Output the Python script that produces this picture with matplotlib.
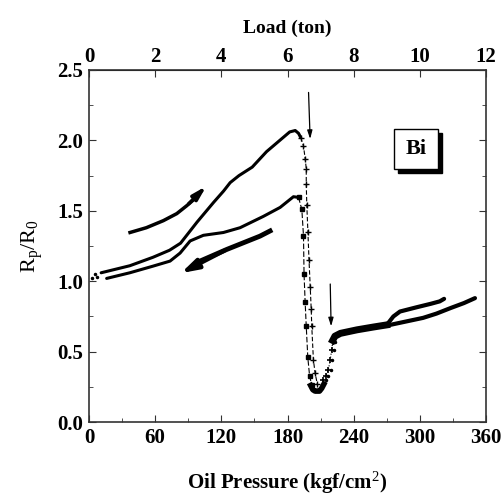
import matplotlib
matplotlib.use("Agg")

import matplotlib.pyplot as plt
from matplotlib.patches import Rectangle

plt.rcParams["font.family"] = ["Liberation Serif", "DejaVu Serif"]
plt.rcParams["mathtext.fontset"] = "custom"
plt.rcParams["mathtext.rm"] = "Liberation Serif"
plt.rcParams["mathtext.it"] = "Liberation Serif:italic"
plt.rcParams["mathtext.bf"] = "Liberation Serif:bold"

# first loading cycle (peak ~2.07)
load1_x = [11, 37, 58, 73, 83, 98, 113, 122, 128, 136, 148, 161, 173, 182, 187, 190, 192]
load1_y = [1.06, 1.11, 1.17, 1.22, 1.27, 1.42, 1.56, 1.64, 1.70, 1.75, 1.81, 1.92, 2.00, 2.06, 2.07, 2.05, 2.02]
drop1_x = [192, 194.5, 196, 197, 197, 197.5, 198.5, 199.5, 200.6, 201.5, 202, 203.5, 205, 207]
drop1_y = [2.02, 1.96, 1.87, 1.80, 1.69, 1.54, 1.35, 1.15, 0.96, 0.80, 0.68, 0.44, 0.35, 0.27]

# second loading cycle (peak ~1.6)
load2_x = [16, 37, 58, 73.5, 82.6, 91.7, 103.7, 121.9, 137, 158, 173.3, 185.4, 190]
load2_y = [1.02, 1.06, 1.107, 1.143, 1.20, 1.286, 1.326, 1.346, 1.38, 1.46, 1.524, 1.60, 1.595]
drop2_x = [190, 193, 194.5, 195, 196, 197, 198.4, 200, 202]
drop2_y = [1.595, 1.51, 1.32, 1.05, 0.85, 0.68, 0.46, 0.33, 0.26]

# start dots near origin
start_x = [3, 5, 7]
start_y = [1.02, 1.05, 1.03]

# minimum and recovery
min_x = [201, 203, 205, 207, 209, 211, 213]
min_y = [0.26, 0.23, 0.22, 0.22, 0.22, 0.24, 0.27]
rise_x = [212.6, 215, 217, 218.7, 220, 221, 223]
rise_y = [0.30, 0.33, 0.37, 0.44, 0.51, 0.57, 0.61]
plat_x = [221, 223, 228, 243, 258, 270]
plat_y = [0.58, 0.61, 0.63, 0.655, 0.675, 0.69]
high1_x = [270, 276, 282, 297, 310, 318, 322]
high1_y = [0.69, 0.75, 0.785, 0.815, 0.84, 0.857, 0.875]
high2_x = [270, 288, 303, 315, 328, 340, 350]
high2_y = [0.685, 0.715, 0.74, 0.77, 0.81, 0.845, 0.88]

# direction arrows
upr_x = [37.2, 52, 67.4, 79.6, 88.6, 98, 108.3]
upr_y = [1.346, 1.38, 1.43, 1.48, 1.536, 1.60, 1.69]
dwn_x = [164.2, 155, 125, 100.7, 81]
dwn_y = [1.357, 1.32, 1.226, 1.143, 1.048]

xticks = [0, 60, 120, 180, 240, 300, 360]
yticks = [0.0, 0.5, 1.0, 1.5, 2.0, 2.5]
ton_ticks = [0, 2, 4, 6, 8, 10, 12]

fig = plt.figure(figsize=(5.04, 4.96), dpi=100)
ax = fig.add_axes([0.1766, 0.149, 0.7877, 0.710])

k = "black"
ax.plot(start_x, start_y, ls="none", marker=".", ms=3, color=k)
ax.plot(load1_x, load1_y, color=k, lw=2.2, solid_capstyle="round")
ax.plot(drop1_x, drop1_y, color=k, lw=0.8, ls=(0, (4, 2)), marker="+", ms=4, mew=1)
ax.plot(load2_x, load2_y, color=k, lw=2.2, solid_capstyle="round")
ax.plot(drop2_x, drop2_y, color=k, lw=0.8, ls=(0, (5, 2)), marker="s", ms=2.5)
ax.plot(min_x, min_y, color=k, lw=4)
ax.plot(rise_x, rise_y, color=k, lw=0.8, ls=":", marker="+", ms=4, mew=1.2)
ax.plot([x + 2 for x in rise_x], rise_y, ls="none", marker=".", ms=3, color=k)
ax.plot(plat_x, plat_y, color=k, lw=5)
ax.plot(high1_x, high1_y, color=k, lw=3, solid_capstyle="round")
ax.plot(high2_x, high2_y, color=k, lw=3, solid_capstyle="round")

ax.plot(upr_x[:-1], upr_y[:-1], color=k, lw=2.5)
ax.annotate("", xy=(upr_x[-1], upr_y[-1]), xytext=(upr_x[-3], upr_y[-3]),
            arrowprops=dict(arrowstyle="-|>,head_length=0.8,head_width=0.22", color=k, lw=2.5))
ax.plot(dwn_x[:-1], dwn_y[:-1], color=k, lw=3.5)
ax.annotate("", xy=(dwn_x[-1], dwn_y[-1]), xytext=(dwn_x[-3], dwn_y[-3]),
            arrowprops=dict(arrowstyle="-|>,head_length=1.0,head_width=0.3", color=k, lw=3))

# transition markers
ax.annotate("", xy=(200.6, 1.99), xytext=(199, 2.36),
            arrowprops=dict(arrowstyle="-|>,head_length=0.5,head_width=0.15", color=k, lw=0.9))
ax.annotate("", xy=(219.6, 0.66), xytext=(218.7, 1.0),
            arrowprops=dict(arrowstyle="-|>,head_length=0.5,head_width=0.15", color=k, lw=0.9))

# Bi label box with shadow
bx, by, bw, bh = 276.8, 1.80, 40, 0.28
ax.add_patch(Rectangle((bx + 3.6, by - 0.03), bw, bh, color=k, zorder=4))
ax.add_patch(Rectangle((bx, by), bw, bh, facecolor="white", edgecolor=k, lw=1, zorder=5))
ax.text(bx + bw / 2, by + bh / 2, "Bi", ha="center", va="center",
        fontsize=16, fontweight="bold", zorder=6)

ax.set_xlim(0, 360)
ax.set_ylim(0, 2.5)
ax.set_xticks(xticks)
ax.set_xticks([30, 90, 150, 210, 270, 330], minor=True)
ax.set_yticks(yticks)
ax.set_yticks([0.25, 0.75, 1.25, 1.75, 2.25], minor=True)
ax.set_yticklabels([f"{v:.1f}" for v in yticks])
ax.tick_params(which="both", direction="in", right=True, labelsize=15, colors="#333333",
               labelcolor="black", pad=4)
ax.tick_params(which="major", length=5)
ax.tick_params(which="minor", length=3)
for lab in ax.get_xticklabels() + ax.get_yticklabels():
    lab.set_fontweight("bold")
for s in ax.spines.values():
    s.set_color("#333333")
    s.set_linewidth(1.2)

top = ax.secondary_xaxis("top", functions=(lambda p: p / 30, lambda t: t * 30))
top.set_xticks(ton_ticks)
top.tick_params(direction="in", length=5, labelsize=15, colors="#333333", labelcolor="black", pad=2)
for lab in top.get_xticklabels():
    lab.set_fontweight("bold")
top.set_xlabel("Load (ton)", fontsize=14, fontweight="bold", labelpad=10)

ax.set_xlabel("Oil Pressure (kgf/cm$^2$)", fontsize=15, fontweight="bold", labelpad=16)
ax.set_ylabel("R$_\\mathrm{p}$/R$_0$", fontsize=16, labelpad=9)

fig.savefig("out.png", dpi=100)
